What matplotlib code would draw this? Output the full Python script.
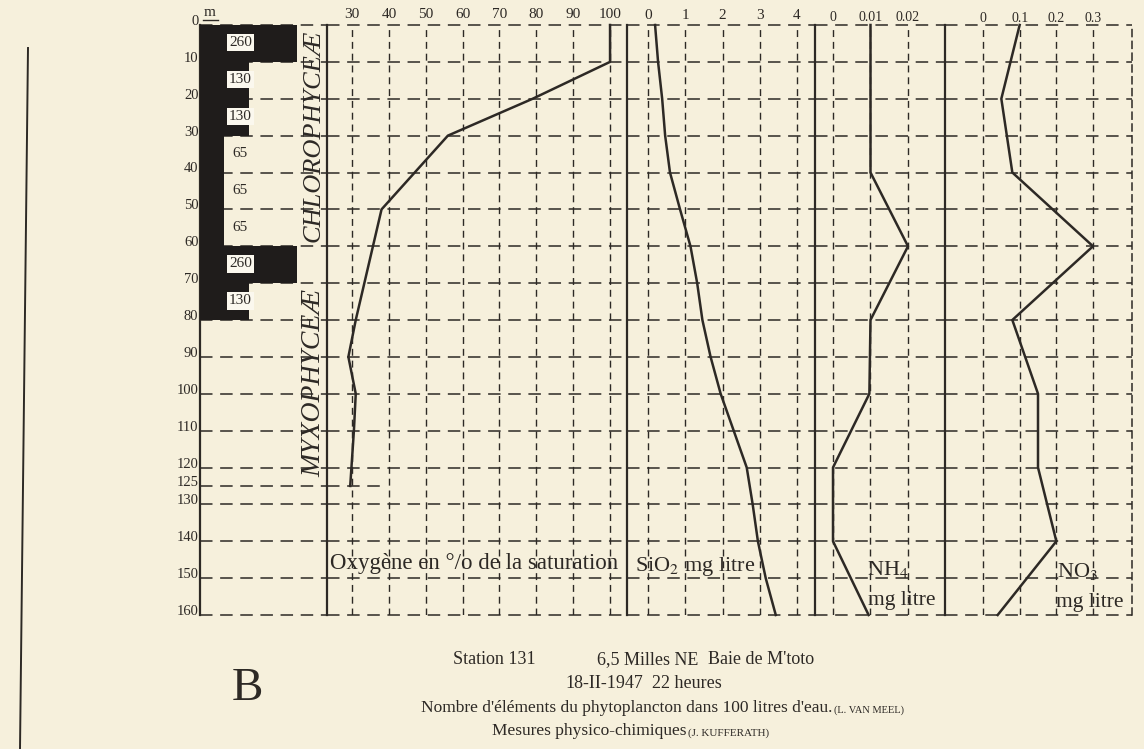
import matplotlib
matplotlib.use("Agg")
import matplotlib.pyplot as plt
from matplotlib import transforms
from matplotlib.lines import Line2D

# ---- data ----
depth_levels = [0, 10, 20, 30, 40, 50, 60, 70, 80, 90, 100, 110, 120, 130, 140, 150, 160]
depth_labels = depth_levels + [125]

bin_tops = [0, 10, 20, 30, 40, 50, 60, 70]
phyto_counts = [260, 130, 130, 65, 65, 65, 260, 130]

oxy_depth = [0, 10, 20, 30, 50, 80, 90, 100, 110, 125]
oxy_sat = [100, 100, 79, 56, 38, 31, 29, 31, 30.5, 29.5]

sio2_depth = depth_levels
sio2 = [0.19, 0.27, 0.38, 0.46, 0.59, 0.86, 1.14, 1.32, 1.46, 1.68,
        1.95, 2.3, 2.65, 2.81, 2.95, 3.16, 3.43]

nh4_depth = [0, 40, 60, 80, 100, 120, 140, 160]
nh4 = [0.01, 0.01, 0.02, 0.01, 0.0097, 0.0, 0.0, 0.0095]

no3_depth = [0, 20, 40, 60, 80, 100, 120, 140, 160]
no3 = [0.1, 0.05, 0.08, 0.3, 0.08, 0.15, 0.15, 0.2, 0.04]

oxy_ticks = [30, 40, 50, 60, 70, 80, 90, 100]
sio2_ticks = [0, 1, 2, 3, 4]
nh4_ticks = [0, 0.01, 0.02]
nh4_ticklabels = ["0", "0.01", "0.02"]
no3_ticks = [0, 0.1, 0.2, 0.3]
no3_ticklabels = ["0", "0.1", "0.2", "0.3"]

# ---- style ----
W, H = 1144, 749
TOP, BOT = 25, 615
INK = "#2d2925"
PAPER = "#f6f0dc"
H_DASH = (0, (9, 5.5))
V_DASH = (0, (5, 3.5))

plt.rcParams["font.family"] = ["Liberation Serif", "DejaVu Serif"]
plt.rcParams["mathtext.fontset"] = "stix"
plt.rcParams["lines.scale_dashes"] = False
plt.rcParams["text.color"] = INK

fig = plt.figure(figsize=(W / 100, H / 100), dpi=100, facecolor=PAPER)


def panel(x0, x1, xlim, ticks=None, ticklabels=None, tsize=11, pad=2):
    ax = fig.add_axes([x0 / W, 1 - BOT / H, (x1 - x0) / W, (BOT - TOP) / H])
    ax.set_facecolor("none")
    ax.set_xlim(*xlim)
    ax.set_ylim(160, 0)
    for s in ["top", "bottom", "right"]:
        ax.spines[s].set_visible(False)
    ax.spines["left"].set_color(INK)
    ax.spines["left"].set_linewidth(1.6)
    ax.set_yticks([])
    if ticks is None:
        ax.set_xticks([])
    else:
        ax.xaxis.tick_top()
        ax.set_xticks(ticks)
        ax.set_xticklabels(ticklabels if ticklabels else [str(t) for t in ticks])
        ax.tick_params(axis="x", length=0, pad=pad, labelsize=tsize, colors=INK)
        for t in ticks:
            ax.axvline(t, color=INK, lw=1.0, ls=V_DASH, zorder=1)
    for d in depth_levels:
        ax.axhline(d, color=INK, lw=1.1, ls=H_DASH, clip_on=False, zorder=1)
    return ax


# phytoplankton bars
ax_bar = panel(200, 327, (0, 340))
ax_bar.barh(bin_tops, phyto_counts, height=10, align="edge", left=0,
            color="#1f1c1b", zorder=3)
ax_bar.axhline(125, color=INK, lw=1.1, ls=H_DASH, zorder=1)
for top, n in zip(bin_tops, phyto_counts):
    box = None if n == 65 else dict(boxstyle="square,pad=0.15", fc="#fbf8ee", ec="none")
    ax_bar.text(108, top + 4.8, str(n), ha="center", va="center",
                fontsize=11, bbox=box, zorder=4)

blend = transforms.blended_transform_factory(ax_bar.transAxes, ax_bar.transData)
for d in depth_labels:
    ax_bar.text(-0.012, d, str(d), transform=blend, ha="right", va="baseline",
                fontsize=10.5)

# oxygen
ax_oxy = panel(327, 627, (23.2, 104.6), oxy_ticks, pad=3)
ax_oxy.hlines(125, 23.2, 38.5, color=INK, lw=1.1, linestyles=H_DASH)
ax_oxy.plot(oxy_sat, oxy_depth, color=INK, lw=1.8, clip_on=False, zorder=3)

# silica
ax_si = panel(627, 815, (-0.564, 4.483), sio2_ticks, pad=2)
ax_si.plot(sio2, sio2_depth, color=INK, lw=1.8, clip_on=False, zorder=3)

# ammonium
ax_nh = panel(815, 945, (-0.0048, 0.02987), nh4_ticks, nh4_ticklabels, tsize=10, pad=1)
ax_nh.plot(nh4, nh4_depth, color=INK, lw=1.8, clip_on=False, zorder=3)

# nitrate
ax_no = panel(945, 1132, (-0.1036, 0.4063), no3_ticks, no3_ticklabels, tsize=10, pad=0)
ax_no.spines["right"].set_visible(True)
ax_no.spines["right"].set_linestyle(V_DASH)
ax_no.spines["right"].set_linewidth(1.1)
ax_no.spines["right"].set_color(INK)
ax_no.plot(no3, no3_depth, color=INK, lw=1.8, clip_on=False, zorder=3)


def ftext(x, y, s, **kw):
    return fig.text(x / W, 1 - y / H, s, **kw)


# depth unit
ftext(210, 13, "m", ha="center", va="center", fontsize=11)
fig.add_artist(Line2D([203 / W, 218 / W], [1 - 20 / H, 1 - 20 / H], color=INK, lw=1.0))

# group names
ftext(314, 136, "CHLOROPHYCEÆ", rotation=90, ha="center", va="center",
      fontsize=19, style="italic")
ftext(314, 383, "MYXOPHYCEÆ", rotation=90, ha="center", va="center",
      fontsize=20, style="italic")

# panel captions
ftext(330, 564, "Oxygène en °/o de la saturation", ha="left", va="center", fontsize=16.5)
ftext(635, 566, "SiO$_2$ mg litre", ha="left", va="center", fontsize=16)
ftext(867, 570, "NH$_4$", ha="left", va="center", fontsize=16)
ftext(868, 601, "mg litre", ha="left", va="center", fontsize=15.5)
ftext(1057, 572, "NO$_3$", ha="left", va="center", fontsize=16)
ftext(1056, 603, "mg litre", ha="left", va="center", fontsize=15.5)

# footer
ftext(247, 689, "B", ha="center", va="center", fontsize=34)
ftext(453, 660, "Station 131", ha="left", va="center", fontsize=13)
ftext(597, 660, "6,5 Milles NE", ha="left", va="center", fontsize=13)
ftext(708, 660, "Baie de M'toto", ha="left", va="center", fontsize=13)
ftext(565, 684, "18-II-1947", ha="left", va="center", fontsize=13)
ftext(652, 684, "22 heures", ha="left", va="center", fontsize=13)
ftext(832, 708, "Nombre d'éléments du phytoplancton dans 100 litres d'eau.",
      ha="right", va="center", fontsize=12.5)
ftext(834, 710, "(L. VAN MEEL)", ha="left", va="center", fontsize=7.5)
ftext(686, 731, "Mesures physico-chimiques", ha="right", va="center", fontsize=12.5)
ftext(688, 733, "(J. KUFFERATH)", ha="left", va="center", fontsize=8)

# page edge
fig.add_artist(Line2D([28 / W, 20 / W], [1 - 48 / H, 0], color=INK, lw=1.4))

fig.savefig("out.png", dpi=100, facecolor=PAPER)
